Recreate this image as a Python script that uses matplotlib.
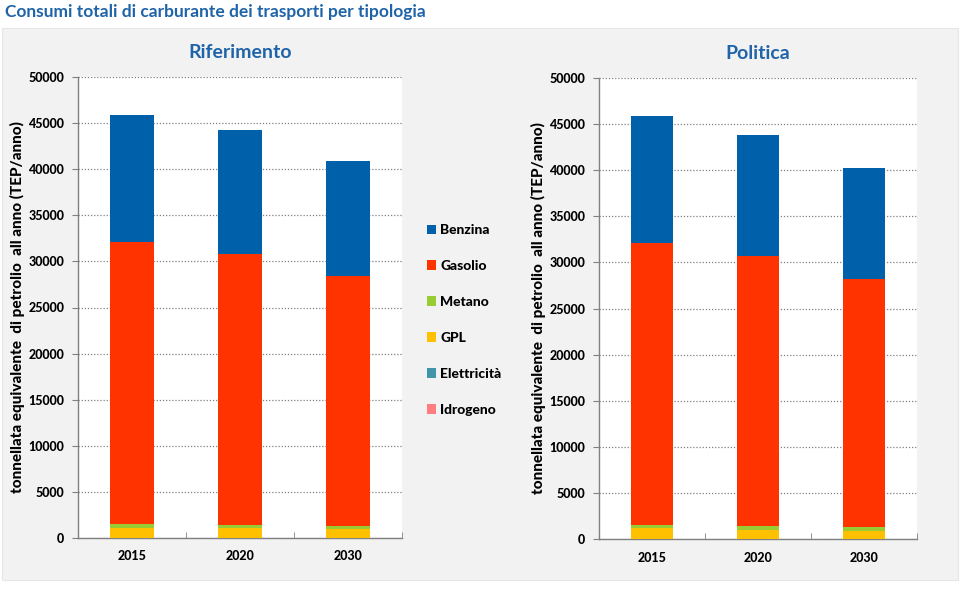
import matplotlib
matplotlib.use("Agg")
import matplotlib.pyplot as plt
from matplotlib.patches import Rectangle, Patch
import numpy as np

plt.rcParams['font.family'] = ['Lato', 'DejaVu Sans']

years = ["2015", "2020", "2030"]
series_names = ["Idrogeno", "Elettricità", "GPL", "Metano", "Gasolio", "Benzina"]
colors = {"Benzina": "#0061AA", "Gasolio": "#FF3300", "Metano": "#99CC33",
          "GPL": "#FFC000", "Elettricità": "#4095A8", "Idrogeno": "#FF7C80"}

# Riferimento scenario (TEP/anno)
rif_idrogeno = [0, 0, 0]
rif_elettricita = [0, 0, 0]
rif_gpl = [1100, 1080, 1000]
rif_metano = [450, 360, 300]
rif_gasolio = [30550, 29360, 27120]
rif_benzina = [13800, 13450, 12470]

# Politica scenario (TEP/anno)
pol_idrogeno = [0, 0, 0]
pol_elettricita = [0, 0, 0]
pol_gpl = [1140, 1030, 920]
pol_metano = [350, 360, 360]
pol_gasolio = [30610, 29310, 26920]
pol_benzina = [13800, 13150, 12050]

title = "Consumi totali di carburante dei trasporti per tipologia"
ylabel = "tonnellata equivalente  di petrolio  all anno (TEP/anno)"
blue = "#1F64A8"
heavy = 900

fig = plt.figure(figsize=(9.8, 5.95), dpi=100)
fig.patches.append(Rectangle((2/980, 1-580/595), 956/980, 552/595,
                             transform=fig.transFigure, facecolor="#F2F2F2",
                             edgecolor="#E6E6E6", lw=0.8, zorder=-5))
fig.text(5/980, 1-12/595, title, color=blue, fontsize=12.5, fontweight="bold",
         va="center", ha="left")

def draw(ax, data, name):
    ax.set_facecolor("white")
    x = np.arange(len(years))
    bottom = np.zeros(len(years))
    for s, vals in zip(series_names, data):
        ax.bar(x, vals, 0.4, bottom=bottom, color=colors[s], zorder=3, lw=0)
        bottom += np.array(vals)
    ax.set_xlim(-0.5, len(years) - 0.5)
    ax.set_ylim(0, 50000)
    ax.set_yticks(np.arange(0, 50001, 5000))
    ax.yaxis.grid(True, linestyle=(0, (1, 1.5)), color="#808080", lw=0.9, zorder=1)
    ax.set_axisbelow(True)
    ax.set_xticks(x)
    ax.set_xticklabels(years, fontweight=heavy, fontsize=9)
    ax.set_xticks(np.arange(0.5, len(years)), minor=True)
    ax.tick_params(axis="x", which="major", length=0, pad=9)
    ax.tick_params(axis="x", which="minor", length=4, color="#808080", direction="in")
    ax.tick_params(axis="y", length=4, color="#808080", pad=6)
    for lab in ax.get_yticklabels():
        lab.set_fontweight(heavy)
        lab.set_fontsize(9)
    for sp in ["top", "right"]:
        ax.spines[sp].set_visible(False)
    for sp in ["left", "bottom"]:
        ax.spines[sp].set_color("#808080")
        ax.spines[sp].set_linewidth(1)
    ax.set_ylabel(ylabel, fontweight=heavy, fontsize=11, labelpad=2)
    ax.set_title(name, color=blue, fontweight="bold", fontsize=14, pad=14)

ax1 = fig.add_axes([78/980, 1-538/595, 324/980, 461/595])
draw(ax1, [rif_idrogeno, rif_elettricita, rif_gpl, rif_metano, rif_gasolio, rif_benzina],
     "Riferimento")
ax2 = fig.add_axes([599/980, 1-539/595, 318/980, 461/595])
draw(ax2, [pol_idrogeno, pol_elettricita, pol_gpl, pol_metano, pol_gasolio, pol_benzina],
     "Politica")

handles = [Patch(facecolor=colors[s], edgecolor="none") for s in series_names[::-1]]
leg = fig.legend(handles, series_names[::-1], loc="center left",
                 bbox_to_anchor=(414/980, 1-320/595), frameon=False,
                 prop={"weight": heavy, "size": 10}, labelspacing=1.72,
                 handlelength=0.7, handleheight=0.7, handletextpad=0.3)

fig.savefig("out.png", dpi=100)
